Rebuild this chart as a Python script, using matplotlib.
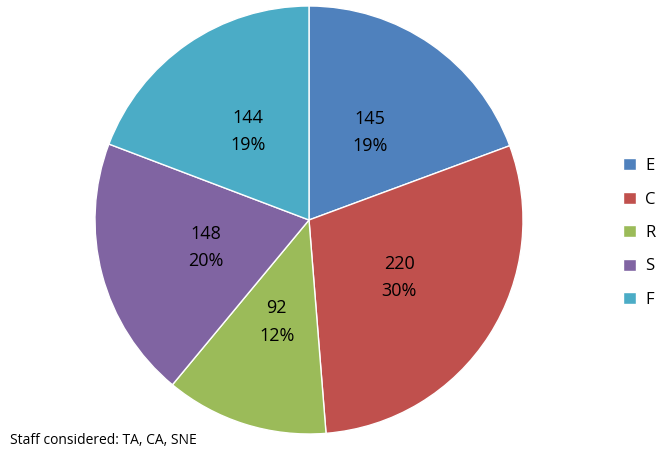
import matplotlib.pyplot as plt

plt.rcParams['font.family'] = ['Open Sans', 'DejaVu Sans']

categories = ['E', 'C', 'R', 'S', 'F']
values = [145, 220, 92, 148, 144]
pct_labels = ['19%', '30%', '12%', '20%', '19%']
colors = ['#4F81BD', '#C0504D', '#9BBB59', '#8064A2', '#4BACC6']

fig = plt.figure(figsize=(6.57, 4.54), dpi=100)
# pie box: 428 x 428 px centred at (309, 220)
ax = fig.add_axes([95 / 657, 20 / 454, 428 / 657, 428 / 454])

texts = [f'{v}\n{p}' for v, p in zip(values, pct_labels)]
wedges, lbls = ax.pie(values, colors=colors, labels=texts, startangle=90,
                      counterclock=False, labeldistance=0.5,
                      wedgeprops=dict(edgecolor='white', linewidth=1),
                      textprops=dict(fontsize=13, ha='center', va='center',
                                     linespacing=1.65))
ax.set_xlim(-1, 1)
ax.set_ylim(-1, 1)
ax.set_aspect('equal')

fig.legend(wedges, categories, loc='center left', bbox_to_anchor=(623 / 657, 1 - 233 / 454),
           frameon=False, fontsize=12, handlelength=0.75, handleheight=0.75,
           labelspacing=1.05, handletextpad=0.6, borderpad=0, borderaxespad=0)

fig.text(10 / 657, 1 - 440 / 454, 'Staff considered: TA, CA, SNE', fontsize=10,
         va='center', ha='left')

fig.savefig('out.png', dpi=100)
